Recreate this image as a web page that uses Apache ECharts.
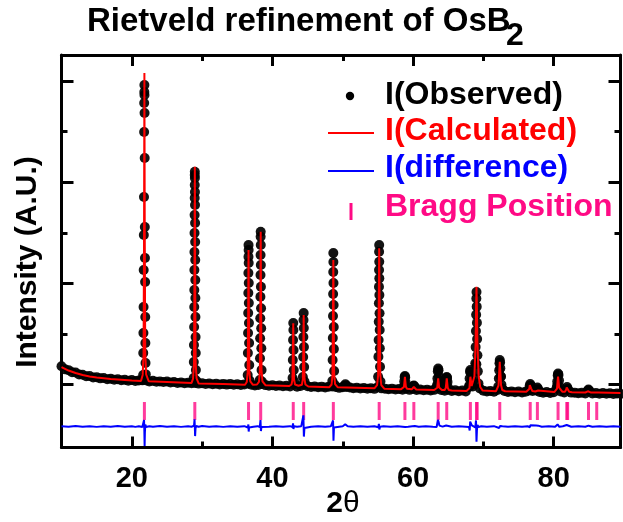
<!DOCTYPE html>
<html>
<head>
<meta charset="utf-8">
<script src="https://cdn.jsdelivr.net/npm/echarts@6.0.0/dist/echarts.min.js"></script>
<style>
  html, body { margin: 0; padding: 0; background: #ffffff; }
  #chart { width: 623px; height: 522px; }
</style>
</head>
<body>
<div id="chart"></div>
<script>
// ---- axes ----
const twoThetaRange = [10, 89.5];
const xTickLabels = [20, 40, 60, 80];
const xMinorTicks = [30, 50, 70];
const intensityRange = [377, 4259];
const yMajorTicks = [1000, 2000, 3000, 4000];
const yMinorTicks = [1500, 2500, 3500];

// ---- observed pattern: step scan (start, step, counts) ----
const obsScanStart = 10;
const obsScanStep = 0.5;
const obsScan = [
  1180, 1150, 1142, 1121, 1118, 1100, 1097, 1081, 1083, 1070,
  1073, 1061, 1064, 1053, 1058, 1047, 1052, 1043, 1047, 1038,
  1044, 1035, 1040, 1041, 1052, 1030, 1036, 1027, 1031, 1024,
  1029, 1020, 1025, 1016, 1021, 1013, 1018, 1012, 1015, 1009,
  1013, 1006, 1010, 1003, 1008, 1001, 1006, 999, 1004, 997,
  1003, 995, 1001, 1010, 998, 991, 996, 1005, 994, 987,
  993, 985, 990, 983, 988, 981, 1000, 979, 986, 1000,
  983, 975, 981, 973, 979, 971, 977, 980, 975, 967,
  974, 975, 970, 963, 968, 961, 966, 959, 964, 957,
  975, 962, 958, 953, 959, 951, 956, 949, 960, 947,
  958, 945, 951, 943, 949, 941, 947, 1010, 945, 938,
  950, 936, 942, 934, 940, 932, 990, 980, 1200, 960,
  939, 930, 936, 928, 945, 1080, 935, 926, 932, 924,
  930, 922, 929, 940, 935, 940, 926, 918, 925, 917,
  924, 990, 930, 922, 950, 920, 918, 913, 919, 912,
  935, 911, 917, 909, 915, 908, 914, 907, 912, 908
];

// ---- observed points across the reflections [2theta, counts] ----
const obsPeaks = [
  [21.50,1045],[21.61,1094],[21.63,1311],[21.65,1509],[21.67,1766],[21.69,2132],[21.71,2479],[21.73,2854],
  [21.75,3497],[21.76,3784],[21.78,3893],[21.79,3962],[21.80,3863],[21.81,3685],[21.83,3240],[21.85,2558],
  [21.87,2251],[21.89,2014],[21.91,1668],[21.93,1410],[21.95,1212],[21.99,1100],[22.10,1040],
  [28.80,1064],[28.82,1223],[28.84,1391],[28.86,1569],[28.88,1766],[28.89,1934],[28.90,2132],[28.91,2310],
  [28.92,2498],[28.93,2676],[28.94,2844],[28.95,2973],[28.955,3071],[28.96,3104],[28.97,3042],[28.98,2904],
  [28.99,2775],[29.00,2597],[29.01,2409],[29.02,2231],[29.03,2033],[29.04,1855],[29.05,1668],[29.07,1470],
  [29.09,1311],[29.11,1143],[29.15,1040],
  [36.48,1094],[36.51,1311],[36.53,1509],[36.55,1707],[36.57,1905],[36.58,2103],[36.59,2264],[36.60,2380],
  [36.61,2330],[36.62,2202],[36.63,2004],[36.64,1806],[36.66,1608],[36.68,1410],[36.70,1193],[36.75,1040],
  [38.20,1045],[38.23,1259],[38.25,1457],[38.27,1655],[38.29,1868],[38.30,2083],[38.31,2281],[38.32,2462],
  [38.33,2511],[38.34,2380],[38.35,2182],[38.36,1967],[38.38,1754],[38.40,1556],[38.42,1358],[38.45,1143],
  [38.50,1030],
  [42.86,1064],[42.90,1242],[42.93,1440],[42.96,1608],[42.98,1539],[43.00,1341],[43.03,1143],[43.08,1030],
  [44.33,1074],[44.37,1272],[44.40,1470],[44.42,1638],[44.44,1707],[44.46,1559],[44.48,1371],[44.51,1173],
  [44.56,1030],
  [48.52,1035],[48.56,1242],[48.59,1460],[48.61,1677],[48.63,1895],[48.65,2113],[48.66,2300],[48.67,2211],
  [48.68,2004],[48.70,1786],[48.72,1569],[48.74,1351],[48.77,1134],[48.82,1000],
  [50.22,985],[50.37,1003],[50.52,990],
  [55.03,1077],[55.07,1275],[55.10,1440],[55.12,1621],[55.14,1803],[55.15,1967],[55.16,2132],[55.17,2313],
  [55.18,2380],[55.19,2214],[55.20,2050],[55.21,1885],[55.23,1704],[55.25,1539],[55.27,1358],[55.30,1176],
  [55.36,1030],
  [58.66,975],[58.74,1030],[58.80,1075],[58.84,1084],[58.88,1070],[58.94,1020],[59.02,970],
  [59.95,965],[60.05,985],[60.11,990],[60.20,980],[60.30,962],
  [63.38,985],[63.46,1060],[63.52,1130],[63.57,1158],[63.62,1140],[63.68,1080],[63.76,1005],[63.85,970],
  [64.62,975],[64.70,1030],[64.76,1068],[64.79,1074],[64.83,1065],[64.90,1025],[64.98,970],
  [67.96,975],[68.04,1060],[68.10,1125],[68.15,1143],[68.21,1120],[68.30,1050],[68.42,1000],
  [68.78,1060],[68.85,1210],[68.90,1370],[68.94,1530],[68.97,1690],[69.00,1850],[69.02,1915],[69.05,1770],
  [69.08,1610],[69.11,1450],[69.15,1290],[69.21,1130],[69.30,1010],
  [72.12,980],[72.20,1060],[72.25,1140],[72.29,1210],[72.33,1242],[72.37,1220],[72.41,1160],[72.47,1080],
  [72.56,1000],[72.68,960],
  [76.50,950],[76.58,985],[76.66,1005],[76.74,990],[76.84,955],
  [77.55,948],[77.68,970],[77.80,952],
  [80.42,965],[80.50,1030],[80.57,1090],[80.62,1109],[80.68,1095],[80.76,1040],[80.86,975],
  [81.75,950],[81.90,975],[82.02,955],
  [84.85,940],[84.95,950],[85.05,938]
];

// ---- calculated profile [2theta, counts] ----
const calcCurve = [
  [10,1173],[11,1138],[12,1114],[13,1094],[14,1079],[15,1069],[17,1054],[20,1040],[21.3,1035],
  [21.54,1095],[21.67,1290],[21.74,2500],[21.79,4081],[21.84,2520],[21.91,1310],[22.04,1100],[22.4,1032],
  [25,1025],[28.5,1016],
  [28.71,1058],[28.84,1200],[28.91,2050],[28.96,3154],[29.01,2060],[29.08,1215],[29.21,1060],[29.5,1011],
  [33,1004],[36.1,997],
  [36.35,1025],[36.48,1120],[36.55,1720],[36.60,2330],[36.65,1730],[36.72,1130],[36.85,1030],[37.2,998],[37.8,1000],
  [38.08,1025],[38.21,1130],[38.28,1800],[38.33,2511],[38.38,1810],[38.45,1140],[38.58,1030],[39,993],[42.4,985],
  [42.71,1000],[42.84,1045],[42.91,1300],[42.96,1605],[43.01,1305],[43.08,1050],[43.21,1000],[43.7,988],
  [44.19,998],[44.32,1050],[44.39,1330],[44.44,1687],[44.49,1335],[44.56,1055],[44.69,1000],[45.1,980],[48.1,974],
  [48.41,1000],[48.54,1090],[48.61,1700],[48.66,2231],[48.71,1710],[48.78,1100],[48.91,1003],[49.3,972],[54.5,962],
  [54.88,993],[55.03,1090],[55.11,1720],[55.18,2347],[55.25,1730],[55.33,1100],[55.48,995],[55.9,959],[58.3,954],
  [58.54,957],[58.70,975],[58.78,1030],[58.84,1077],[58.90,1032],[58.98,977],[59.14,957],
  [59.8,952],[60.0,962],[60.11,975],[60.22,963],[60.45,951],[63.0,946],
  [63.27,948],[63.43,968],[63.51,1020],[63.57,1061],[63.63,1022],[63.71,970],[64.1,946],
  [64.49,946],[64.65,966],[64.73,1020],[64.79,1061],[64.85,1022],[64.93,968],[65.09,946],[65.5,941],[67.6,937],
  [67.85,940],[68.01,962],[68.09,1035],[68.15,1077],[68.22,1040],[68.33,985],[68.5,985],[68.72,1080],
  [68.89,1400],[68.96,1750],[69.02,1967],[69.08,1760],[69.15,1420],[69.32,1090],[69.55,975],[69.9,940],[71.8,934],
  [71.98,945],[72.15,990],[72.24,1110],[72.33,1225],[72.42,1115],[72.51,995],[72.68,946],[73.1,933],[76.1,929],
  [76.36,932],[76.52,955],[76.60,995],[76.66,1012],[76.72,997],[76.80,960],[76.96,936],
  [77.4,931],[77.58,940],[77.68,946],[77.78,941],[77.98,929],[80.1,926],
  [80.30,930],[80.47,960],[80.56,1040],[80.62,1077],[80.68,1042],[80.77,970],[81.25,928],
  [81.6,928],[81.78,950],[81.85,970],[81.90,978],[81.95,971],[82.02,952],[82.2,928],[82.6,924],[84.5,921],
  [84.65,923],[84.85,933],[84.95,937],[85.05,934],[85.25,922],
  [85.9,920],[86.12,925],[86.35,920],[89.5,916]
];

// ---- difference (obs - calc), drawn shifted below the pattern ----
const diffOffset = 585;
const diffCurve = [
  [10,3],[11,-2],[12,4],[13,-3],[14,2],[15,-4],[16,3],[17,-2],[18,4],[19,-3],[20,2],[20.5,-4],[21,3],[21.5,-5],
  [21.68,10],[21.74,64],[21.78,-40],[21.82,-193],[21.86,-60],[21.92,20],[22.0,-5],
  [22.5,3],[23,-3],[24,4],[25,-2],[26,3],[27,-4],[28,2],[28.5,-3],
  [28.85,8],[28.92,70],[28.97,-20],[29.0,-95],[29.06,-20],[29.15,5],
  [29.5,-3],[30,4],[31,-2],[32,3],[33,-4],[34,2],[35,-3],[36,3],
  [36.5,-10],[36.58,20],[36.62,-50],[36.68,-10],[36.8,3],[37.3,-2],[37.9,3],
  [38.2,-5],[38.3,64],[38.36,-45],[38.44,-5],[38.7,2],[39.5,-3],[40.5,3],[41.5,-2],[42.5,3],
  [42.85,-5],[42.93,30],[42.98,-25],[43.08,2],[43.5,-3],[44.1,3],
  [44.3,-10],[44.4,110],[44.47,-100],[44.55,-15],[44.7,3],[45.5,-2],[46.5,3],[47.5,-3],[48.3,2],
  [48.55,-10],[48.62,60],[48.68,-140],[48.75,-10],[48.9,3],[49.5,-2],[50.0,3],[50.35,22],[50.7,2],
  [51.5,-3],[52.5,3],[53.5,-2],[54.5,3],
  [55.05,-8],[55.14,25],[55.2,-30],[55.3,-3],[55.8,2],[56.8,-3],[57.8,3],[58.5,-2],
  [58.78,12],[58.86,-5],[58.95,8],[59.3,-2],[59.9,3],
  [60.05,18],[60.12,22],[60.25,5],[60.8,-2],[61.8,3],[62.8,-3],
  [63.35,-5],[63.45,-15],[63.53,65],[63.57,60],[63.65,40],[63.75,8],[64.2,-2],
  [64.7,10],[64.8,15],[64.9,4],[65.5,-3],[66.5,3],[67.5,-2],
  [67.95,-5],[68.05,-40],[68.12,48],[68.2,30],[68.35,10],[68.55,-5],
  [68.85,-10],[68.95,60],[69.02,-150],[69.08,-40],[69.15,15],[69.3,-5],[69.7,3],[70.5,-2],[71.5,3],
  [72.25,-15],[72.35,5],[72.45,-5],[72.7,2],[73.5,-3],[74.5,3],[75.5,-2],[76.3,3],
  [76.6,-8],[76.68,12],[76.8,3],
  [77.5,10],[77.65,25],[77.8,8],[78.3,-2],[79.3,3],[80.2,-2],
  [80.55,20],[80.65,12],[80.8,-3],[81.3,2],
  [81.85,15],[81.95,5],[82.5,-3],[83.5,2],[84.5,-3],
  [84.95,8],[85.5,-2],[86.5,3],[87.5,-3],[88.5,2],[89.5,-2]
];

// ---- Bragg reflection positions (2theta) and the row they are marked on ----
const braggLevel = 738;
const braggPositions = [
  21.79, 28.96, 36.60, 38.33, 42.96, 44.44, 48.66, 55.18, 58.84, 60.11, 63.57, 64.79,
  68.15, 69.02, 69.12, 72.33, 76.66, 77.68, 80.62, 81.86, 81.98, 84.95, 86.12
];

// ---- build series data ----
const observedData = obsScan.map((v, i) => [obsScanStart + i * obsScanStep, v]).concat(obsPeaks);
const diffData = diffCurve.map(p => [p[0], p[1] + diffOffset]);
const braggData = braggPositions.map(x => [x, braggLevel]);

const FONT = '"Liberation Sans", Arial, Helvetica, sans-serif';
const BLACK = '#000000';

function xAxisDef(position, ticks, len, labels) {
  return {
    type: 'value', position: position,
    min: twoThetaRange[0], max: twoThetaRange[1],
    axisLine: { show: len > 8, onZero: false, lineStyle: { color: BLACK, width: 3 } },
    axisTick: { show: true, inside: true, length: len, customValues: ticks,
                lineStyle: { color: BLACK, width: 3 } },
    axisLabel: labels ? { show: true, customValues: ticks, fontSize: 29, fontWeight: 'bold',
                          fontFamily: FONT, color: BLACK, margin: 17 } : { show: false },
    splitLine: { show: false }
  };
}
function yAxisDef(position, ticks, len) {
  return {
    type: 'value', position: position,
    min: intensityRange[0], max: intensityRange[1],
    axisLine: { show: len > 8, onZero: false, lineStyle: { color: BLACK, width: 3 } },
    axisTick: { show: true, inside: true, length: len, customValues: ticks,
                lineStyle: { color: BLACK, width: 3 } },
    axisLabel: { show: false },
    splitLine: { show: false }
  };
}

const chart = echarts.init(document.getElementById('chart'), null, { renderer: 'canvas' });
chart.setOption({
  animation: false,
  backgroundColor: '#ffffff',
  grid: { left: 61.5, right: 2.5, top: 55, bottom: 74.5, containLabel: false },
  xAxis: [
    xAxisDef('bottom', xTickLabels, 11, true),
    xAxisDef('top', xTickLabels, 11, false),
    xAxisDef('bottom', xMinorTicks, 6, false),
    xAxisDef('top', xMinorTicks, 6, false)
  ],
  yAxis: [
    yAxisDef('left', yMajorTicks, 12),
    yAxisDef('right', yMajorTicks, 12),
    yAxisDef('left', yMinorTicks, 6),
    yAxisDef('right', yMinorTicks, 6)
  ],
  series: [
    {
      name: 'I(Observed)', type: 'scatter', data: observedData,
      symbol: 'circle', symbolSize: 10,
      itemStyle: { color: '#000000', opacity: 0.92 }, z: 2
    },
    {
      name: 'I(Calculated)', type: 'line', data: calcCurve,
      showSymbol: false, lineStyle: { color: '#ff0000', width: 2 }, z: 3
    },
    {
      name: 'I(difference)', type: 'line', data: diffData,
      showSymbol: false, lineStyle: { color: '#0000ff', width: 2 }, z: 3
    },
    {
      name: 'Bragg Position', type: 'scatter', data: braggData,
      symbol: 'rect', symbolSize: [3, 18],
      itemStyle: { color: '#ff0a85' }, z: 2
    }
  ],
  graphic: [
    // title
    { type: 'text', x: 87, y: 22, style: { text: 'Rietveld refinement of OsB', fill: BLACK,
      font: 'bold 33px ' + FONT, align: 'left', verticalAlign: 'middle' } },
    { type: 'text', x: 506, y: 36, style: { text: '2', fill: BLACK,
      font: 'bold 32px ' + FONT, align: 'left', verticalAlign: 'middle' } },
    // axis titles
    { type: 'text', x: 28, y: 262, rotation: Math.PI / 2, style: { text: 'Intensity (A.U.)', fill: BLACK,
      font: 'bold 30px ' + FONT, align: 'center', verticalAlign: 'middle' } },
    { type: 'text', x: 343, y: 504, style: {
      text: '{a|2}{b|θ}', fill: BLACK, align: 'center', verticalAlign: 'middle',
      rich: { a: { font: 'bold 30px ' + FONT, fill: BLACK }, b: { font: '30px ' + FONT, fill: BLACK } } } },
    // legend
    { type: 'circle', shape: { cx: 350, cy: 96, r: 4.2 }, style: { fill: '#000000' } },
    { type: 'text', x: 385, y: 95, style: { text: 'I(Observed)', fill: '#000000',
      font: 'bold 32px ' + FONT, align: 'left', verticalAlign: 'middle' } },
    { type: 'line', shape: { x1: 328, y1: 133, x2: 374, y2: 133 }, style: { stroke: '#ff0000', lineWidth: 2 } },
    { type: 'text', x: 385, y: 131, style: { text: 'I(Calculated)', fill: '#ff0000',
      font: 'bold 32px ' + FONT, align: 'left', verticalAlign: 'middle' } },
    { type: 'line', shape: { x1: 328, y1: 171, x2: 374, y2: 171 }, style: { stroke: '#0000ff', lineWidth: 2 } },
    { type: 'text', x: 385, y: 168, style: { text: 'I(difference)', fill: '#0000ff',
      font: 'bold 32px ' + FONT, align: 'left', verticalAlign: 'middle' } },
    { type: 'rect', shape: { x: 349.5, y: 203, width: 3, height: 17 }, style: { fill: '#ff0a85' } },
    { type: 'text', x: 385, y: 207, style: { text: 'Bragg Position', fill: '#ff0a85',
      font: 'bold 32px ' + FONT, align: 'left', verticalAlign: 'middle' } }
  ]
});
</script>
</body>
</html>
